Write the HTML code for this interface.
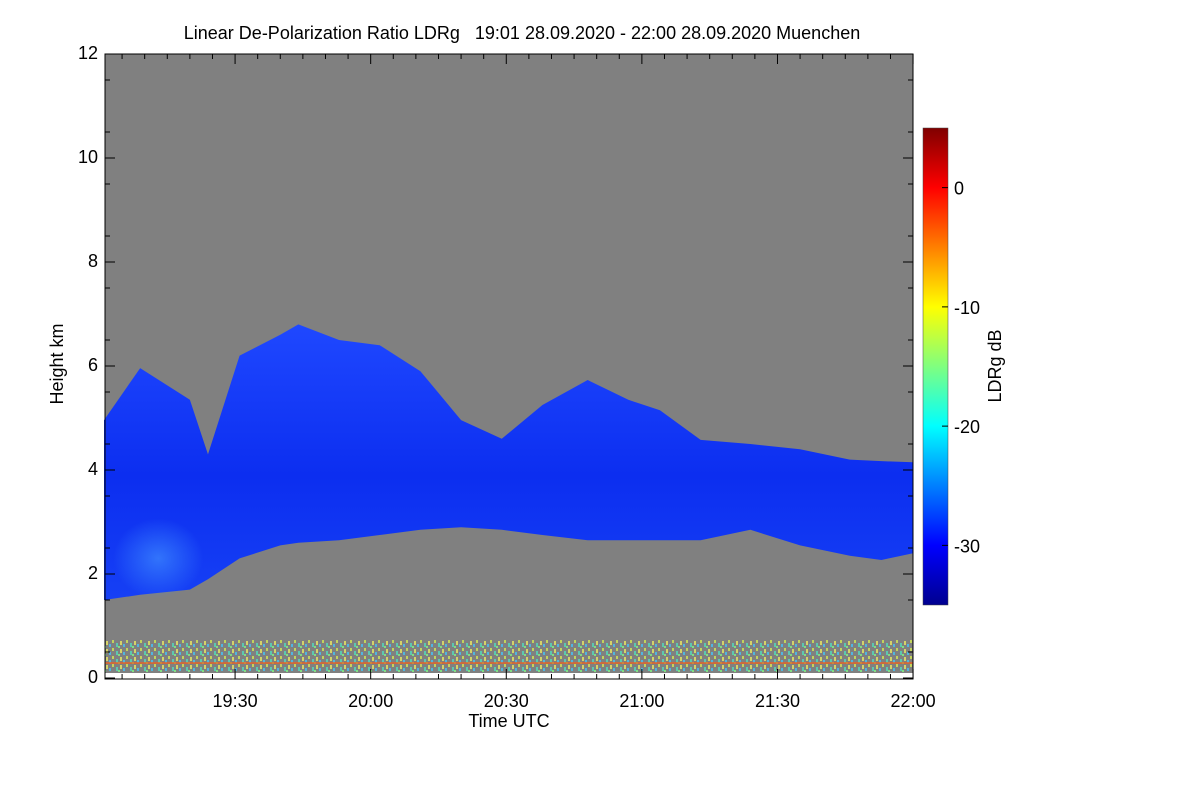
<!DOCTYPE html>
<html><head><meta charset="utf-8"><style>
body{margin:0;background:#fff;}
svg{display:block;font-family:"Liberation Sans",sans-serif;}
</style></head><body>
<svg id="chart" width="1200" height="800">
<defs>
<linearGradient id="jet" x1="0" y1="1" x2="0" y2="0">
<stop offset="0" stop-color="#00008f"/><stop offset="0.125" stop-color="#0000ff"/>
<stop offset="0.375" stop-color="#00ffff"/><stop offset="0.625" stop-color="#ffff00"/>
<stop offset="0.875" stop-color="#ff0000"/><stop offset="1" stop-color="#800000"/>
</linearGradient>
<linearGradient id="cloudg" x1="0" y1="0" x2="0" y2="1">
<stop offset="0" stop-color="#1f48ff"/><stop offset="0.55" stop-color="#0c2ef0"/><stop offset="1" stop-color="#1640f5"/>
</linearGradient>
<radialGradient id="patchg"><stop offset="0" stop-color="#3f8cff" stop-opacity="0.7"/><stop offset="1" stop-color="#3f8cff" stop-opacity="0"/></radialGradient>
<pattern id="noise" width="14" height="8" patternUnits="userSpaceOnUse">
<rect width="14" height="8" fill="#808080"/>
<rect x="0" y="0" width="2" height="3" fill="#d8f050"/><rect x="4" y="3" width="2" height="4" fill="#50e0c0"/>
<rect x="8" y="1" width="2" height="4" fill="#f0f060"/><rect x="6" y="6" width="2" height="2" fill="#80ff80"/>
<rect x="11" y="4" width="2" height="3" fill="#40c8ff"/>
</pattern>
</defs>
<text x="522" y="39" font-size="18" text-anchor="middle" style="white-space:pre">Linear De-Polarization Ratio LDRg   19:01 28.09.2020 - 22:00 28.09.2020 Muenchen</text>
<rect x="105" y="54" width="808" height="619" fill="#808080"/>
<g id="cloud"></g>
<rect x="105" y="640" width="808" height="32" fill="url(#noise)" opacity="0.75"/>
<rect x="105" y="662" width="808" height="2" fill="#f06020" opacity="0.7"/>
<g id="axes"></g>
<rect x="923" y="128" width="25" height="477" fill="url(#jet)" stroke="#444" stroke-width="0.5"/>
<g id="cbticks"></g>
<text x="0" y="0" font-size="18" text-anchor="middle" transform="translate(63,364) rotate(-90)">Height km</text>
<text x="509" y="727" font-size="18" text-anchor="middle">Time UTC</text>
<text x="0" y="0" font-size="18" text-anchor="middle" transform="translate(1001,366) rotate(-90)">LDRg dB</text>
</svg>
<script>
const times=[1,9,20,24,31,40,44,53,62,71,80,89,98,108,117,124,133,144,155,166,173,180];
const cloudTop=[4.96,5.96,5.35,4.3,6.2,6.6,6.8,6.5,6.4,5.9,4.96,4.6,5.25,5.73,5.35,5.15,4.58,4.5,4.4,4.2,4.17,4.15];
const cloudBase=[1.5,1.6,1.7,1.9,2.3,2.55,2.6,2.65,2.75,2.85,2.9,2.85,2.75,2.65,2.65,2.65,2.65,2.85,2.55,2.35,2.27,2.4];
const yTicks=[0,2,4,6,8,10,12];
const xTickMin=[30,60,90,120,150,180];
const xTickLabels=["19:30","20:00","20:30","21:00","21:30","22:00"];
const cbTicks=[0,-10,-20,-30];
const NS="http://www.w3.org/2000/svg";
const X=t=>104+(t-1)*4.52, Y=k=>678-k*52, CB=v=>605-(v+35)/40*477;
function mk(tag,at,parent){const e=document.createElementNS(NS,tag);for(const k in at)e.setAttribute(k,at[k]);parent.appendChild(e);return e;}
const cl=document.getElementById('cloud');
let pts=times.map((t,i)=>X(t)+","+Y(cloudTop[i]));
for(let i=times.length-1;i>=0;i--)pts.push(X(times[i])+","+Y(cloudBase[i]));
const poly=mk('polygon',{points:pts.join(' '),fill:'url(#cloudg)'},cl);


const patch=mk('ellipse',{cx:X(13),cy:Y(2.3),rx:45,ry:40,fill:'url(#patchg)'},cl);


const ax=document.getElementById('axes');
mk('rect',{x:105,y:54,width:808,height:625,fill:'none',stroke:'#000','stroke-width':1},ax);
yTicks.forEach(k=>{
 mk('line',{x1:105,x2:115,y1:Y(k),y2:Y(k),stroke:'#000'},ax);
 mk('line',{x1:913,x2:903,y1:Y(k),y2:Y(k),stroke:'#000'},ax);
 const t=mk('text',{x:98,y:Y(k)+5,'font-size':18,'text-anchor':'end'},ax);t.textContent=k;
 
 
});
for(let k=0.5;k<12;k+=1){mk('line',{x1:105,x2:110,y1:Y(k),y2:Y(k),stroke:'#000'},ax);mk('line',{x1:913,x2:908,y1:Y(k),y2:Y(k),stroke:'#000'},ax);}
for(let m=5;m<=180;m+=5){const big=m%30==0;mk('line',{x1:X(m),x2:X(m),y1:679,y2:big?669:674,stroke:'#000'},ax);mk('line',{x1:X(m),x2:X(m),y1:54,y2:big?64:59,stroke:'#000'},ax);}
xTickMin.forEach((m,i)=>{const t=mk('text',{x:X(m),y:707,'font-size':18,'text-anchor':'middle'},ax);t.textContent=xTickLabels[i];
 
 });
const cb=document.getElementById('cbticks');
cbTicks.forEach(v=>{mk('line',{x1:942,x2:948,y1:CB(v),y2:CB(v),stroke:'#000'},cb);
 const t=mk('text',{x:954,y:CB(v)+7,'font-size':18},cb);t.textContent=v;
 
 });
</script>
</body></html>
